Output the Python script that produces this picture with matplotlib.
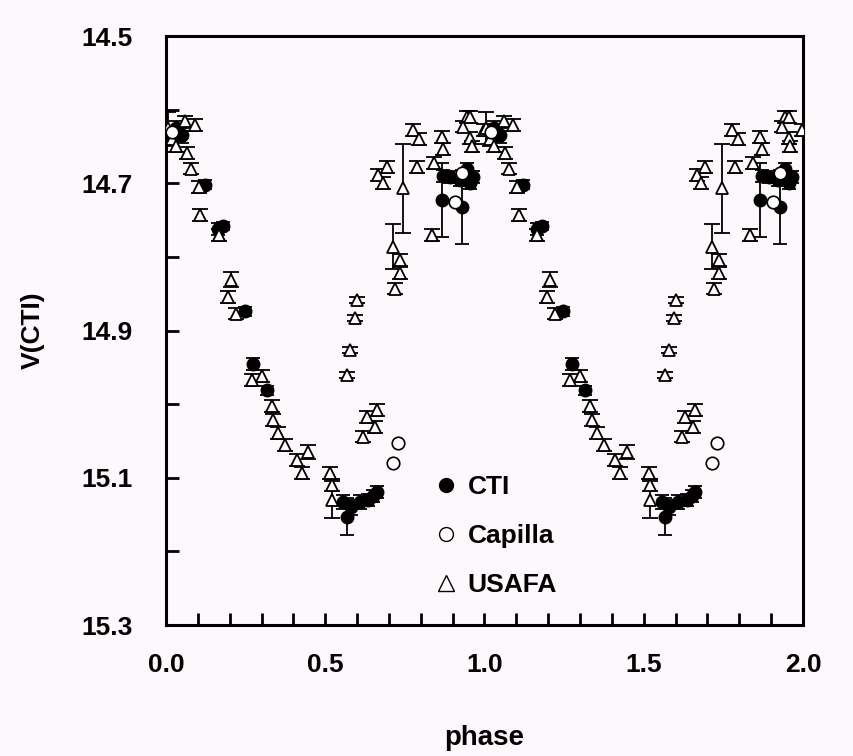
import numpy as np
import matplotlib
matplotlib.use("Agg")
import matplotlib.pyplot as plt
from matplotlib.lines import Line2D
from matplotlib.ticker import MultipleLocator

plt.rcParams['font.family'] = ['Liberation Sans', 'DejaVu Sans']

# light curve, folded on phase 0-1 (shown twice)
usafa_phase = [0.005, 0.018, 0.030, 0.060, 0.090, 0.065, 0.078, 0.103, 0.108, 0.166,
               0.205, 0.195, 0.220, 0.269, 0.300, 0.332, 0.337, 0.353, 0.374, 0.410,
               0.426, 0.447, 0.515, 0.520, 0.520, 0.567, 0.578, 0.594, 0.601, 0.619,
               0.630, 0.656, 0.661, 0.667, 0.680, 0.693, 0.714, 0.719, 0.735, 0.735,
               0.745, 0.777, 0.787, 0.795, 0.834, 0.843, 0.866, 0.871, 0.944, 0.955,
               0.934, 0.955, 0.960, 0.998]
usafa_v = [14.625, 14.640, 14.650, 14.616, 14.621, 14.659, 14.680, 14.705, 14.743, 14.770,
           14.831, 14.854, 14.877, 14.967, 14.962, 15.003, 15.022, 15.039, 15.056, 15.076,
           15.094, 15.065, 15.094, 15.110, 15.130, 14.960, 14.926, 14.883, 14.859, 15.044,
           15.017, 15.031, 15.008, 14.689, 14.700, 14.678, 14.786, 14.843, 14.822, 14.804,
           14.707, 14.628, 14.678, 14.640, 14.770, 14.672, 14.637, 14.653, 14.610, 14.610,
           14.623, 14.639, 14.650, 14.628]
usafa_err = [0.022, 0.010, 0.008, 0.008, 0.008, 0.008, 0.008, 0.008, 0.008, 0.008,
             0.010, 0.008, 0.008, 0.008, 0.008, 0.008, 0.008, 0.008, 0.008, 0.008,
             0.008, 0.010, 0.008, 0.008, 0.025, 0.004, 0.004, 0.004, 0.004, 0.008,
             0.008, 0.008, 0.008, 0.008, 0.008, 0.008, 0.030, 0.008, 0.008, 0.008,
             0.060, 0.008, 0.008, 0.008, 0.008, 0.008, 0.008, 0.008, 0.008, 0.008,
             0.008, 0.008, 0.008, 0.008]

cti_phase = [0.030, 0.040, 0.050, 0.122, 0.164, 0.180, 0.248, 0.274, 0.316, 0.557,
             0.567, 0.580, 0.609, 0.635, 0.650, 0.661, 0.866, 0.870, 0.892, 0.923,
             0.928, 0.945, 0.955, 0.964]
cti_v = [14.625, 14.632, 14.635, 14.702, 14.762, 14.758, 14.874, 14.945, 14.981, 15.133,
         15.153, 15.140, 15.133, 15.130, 15.125, 15.119, 14.723, 14.690, 14.691, 14.696,
         14.732, 14.680, 14.700, 14.691]
cti_err = [0.010, 0.010, 0.010, 0.006, 0.008, 0.006, 0.006, 0.008, 0.006, 0.010,
           0.025, 0.010, 0.010, 0.008, 0.008, 0.008, 0.050, 0.008, 0.008, 0.008,
           0.050, 0.008, 0.008, 0.008]

capilla_phase = [0.020, 0.714, 0.729, 0.907, 0.928]
capilla_v = [14.630, 15.080, 15.053, 14.725, 14.686]

bg = "#fcf8fc"
fig = plt.figure(figsize=(8.54, 7.56), dpi=100, facecolor=bg)
ax = fig.add_axes([166/854, 1 - 625/756, 637/854, 589/756], facecolor=bg)

for shift in (0, 1):
    ax.errorbar(np.array(cti_phase) + shift, cti_v, yerr=cti_err, fmt='o', ms=9,
                mfc='black', mec='black', ecolor='black', elinewidth=1.3,
                capsize=5, capthick=1.3, zorder=3)
    ax.errorbar(np.array(usafa_phase) + shift, usafa_v, yerr=usafa_err, fmt='^', ms=9,
                mfc='white', mec='black', mew=1.3, ecolor='black', elinewidth=1.3,
                capsize=6, capthick=1.3, zorder=4)
    ax.plot(np.array(capilla_phase) + shift, capilla_v, 'o', ms=9,
            mfc='white', mec='black', mew=1.2, zorder=5)

ax.set_xlim(0, 2.0)
ax.set_ylim(15.3, 14.5)
ax.xaxis.set_minor_locator(MultipleLocator(0.1))
ax.yaxis.set_minor_locator(MultipleLocator(0.1))
ax.set_xticks([0.0, 0.5, 1.0, 1.5, 2.0])
ax.set_xticklabels(['0.0', '0.5', '1.0', '1.5', '2.0'])
ax.set_yticks([14.5, 14.7, 14.9, 15.1, 15.3])
ax.set_yticklabels(['14.5', '14.7', '14.9', '15.1', '15.3'])
ax.tick_params(which='both', direction='in', length=9, width=2,
               top=False, right=False)
ax.tick_params(axis='x', which='major', pad=20, labelsize=19)
ax.tick_params(axis='y', which='major', pad=24, labelsize=19)
for lab in ax.get_xticklabels() + ax.get_yticklabels():
    lab.set_fontweight('bold')
for sp in ax.spines.values():
    sp.set_linewidth(2.2)

ax.set_xlabel('phase', fontsize=20, fontweight='bold')
ax.set_ylabel('V(CTI)', fontsize=19, fontweight='bold')
ax.xaxis.set_label_coords(0.5, -0.17)
ax.yaxis.set_label_coords(-0.19, 0.5)

handles = [Line2D([], [], ls='none', marker='o', ms=10, mfc='black', mec='black'),
           Line2D([], [], ls='none', marker='o', ms=10, mfc='white', mec='black'),
           Line2D([], [], ls='none', marker='^', ms=11, mfc='white', mec='black')]
ax.legend(handles, ['CTI', 'Capilla', 'USAFA'], loc='upper left',
          bbox_to_anchor=(0.382, 0.295), frameon=False, handletextpad=0.3,
          handlelength=1.0, labelspacing=0.95,
          prop={'size': 19, 'weight': 'bold'})

fig.savefig("out.png", dpi=100, facecolor=bg)
